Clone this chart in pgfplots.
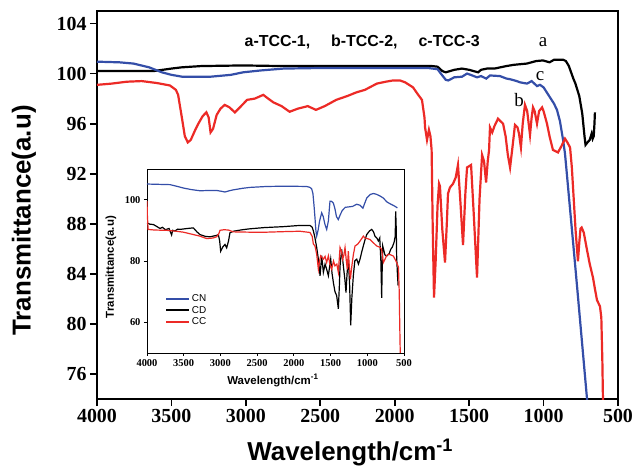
\documentclass[border=0pt]{standalone}
\usepackage{pgfplots}
\pgfplotsset{compat=1.18}
\usepackage{fontspec}
\setmainfont{Liberation Serif}
\newfontfamily\arialfont{Liberation Sans}
\definecolor{cred}{RGB}{236,42,38}
\definecolor{cblue}{RGB}{52,78,168}

\pgfplotstableread{
x y
4000 100.2
3800 100.2
3620 100.2
3500 100.4
3430 100.5
3300 100.6
3020 100.65
2750 100.6
2400 100.6
2000 100.6
1750 100.6
1712 100.55
1680 100.2
1657 100.1
1600 100.3
1548 100.4
1500 100.3
1440 100.1
1420 100.3
1380 100.4
1330 100.4
1250 100.6
1200 100.7
1112 100.8
1050 101.0
1004 101.05
960 100.9
930 101.1
867 101.1
850 101.0
830 100.6
800 99.6
786 99.2
760 98.2
740 96.8
725 95.0
718 94.3
705 94.5
690 94.7
677 95.2
670 94.8
663 95.0
658 96.0
655 96.9
}\mainA

\pgfplotstableread{
x y
4000 100.95
3850 100.9
3755 100.8
3650 100.5
3564 100.1
3500 99.9
3428 99.75
3237 99.75
3100 99.9
3019 100.1
2900 100.25
2747 100.4
2475 100.45
1930 100.45
1780 100.45
1712 100.35
1690 100.0
1657 99.5
1640 99.45
1600 99.7
1548 99.75
1514 100.0
1490 99.9
1447 99.7
1420 99.8
1385 99.6
1360 99.85
1293 99.8
1249 99.6
1225 99.55
1180 99.4
1158 99.3
1111 99.2
1080 99.4
1044 99.0
1024 99.1
1000 98.9
957 98.1
930 97.6
910 97.1
890 96.2
869 94.7
856 93.6
836 91.0
800 86.3
775 83.0
740 78.3
708 74.0
695 72.0
}\mainC

\pgfplotstableread{
x y
4000 99.1
3900 99.2
3800 99.35
3700 99.4
3600 99.25
3510 99.05
3470 98.7
3455 98.3
3430 96.5
3410 95.0
3390 94.5
3370 94.7
3340 95.5
3319 96.0
3290 96.6
3265 96.9
3250 96.5
3237 95.3
3220 95.6
3196 96.7
3170 97.2
3142 97.5
3110 97.3
3074 96.9
3040 97.3
2992 97.9
2940 98.0
2883 98.3
2850 98.0
2815 97.7
2760 97.4
2706 96.95
2650 97.2
2584 97.4
2529 97.1
2470 97.4
2393 97.9
2320 98.2
2257 98.5
2200 98.7
2120 99.2
2060 99.35
2012 99.45
1964 99.45
1930 99.3
1877 98.9
1848 98.4
1817 97.9
1800 96.5
1796 95.7
1783 94.7
1770 95.5
1760 95.0
1752 93.9
1745 88.0
1736 82.1
1725 85.0
1712 89.5
1702 91.2
1696 91.0
1680 87.5
1662 84.9
1650 88.0
1642 90.4
1629 90.9
1608 91.2
1590 91.7
1575 92.7
1560 90.0
1541 86.3
1525 90.5
1514 92.5
1500 92.6
1487 92.7
1470 89.0
1447 83.7
1430 90.0
1413 93.5
1400 93.0
1386 91.3
1375 93.0
1366 93.9
1360 95.7
1345 95.3
1330 95.8
1306 96.4
1290 96.2
1272 96.0
1255 95.0
1240 93.5
1225 92.5
1210 94.0
1192 95.9
1175 95.7
1165 95.2
1152 94.1
1140 96.0
1125 97.5
1110 97.0
1091 95.1
1080 96.5
1071 97.3
1060 97.0
1044 96.0
1030 97.0
1010 97.3
1000 97.0
977 96.0
960 95.0
937 93.9
920 93.8
903 93.7
880 94.2
856 94.8
840 94.5
822 94.1
810 92.5
802 90.9
785 87.5
769 85.0
760 86.5
752 87.6
744 87.7
730 87.3
708 85.9
690 84.8
668 83.7
655 82.8
641 81.9
621 81.4
612 80.5
605 77.0
601 74.0
598 72.0
}\mainB

\pgfplotstableread{
x y
4000 105.1
3850 105.0
3687 104.9
3600 104.4
3505 103.8
3400 103.3
3278 102.9
3150 103.0
3051 103.0
2980 102.7
2938 102.5
2880 102.9
2824 103.2
2700 103.7
2597 104.0
2370 104.3
2100 104.4
1825 104.3
1780 104.0
1757 103.5
1740 102.0
1725 98.0
1712 94.0
1700 90.0
1689 88.1
1670 90.0
1650 93.0
1621 95.7
1600 94.5
1576 91.9
1553 90.3
1530 93.0
1508 99.5
1490 99.5
1462 98.9
1440 97.0
1420 94.5
1395 93.5
1370 95.0
1340 96.5
1300 97.5
1200 97.8
1144 98.5
1100 98.2
1060 97.2
1040 98.5
1008 100.5
960 101.7
917 102.0
880 101.8
826 101.2
780 100.5
735 99.3
700 98.8
660 98.3
620 97.8
590 97.3
}\inCN

\pgfplotstableread{
x y
4000 92.4
3960 92.0
3914 91.9
3870 91.3
3823 90.6
3790 91.0
3750 90.2
3700 90.6
3665 88.5
3650 90.0
3620 89.8
3580 90.4
3550 90.3
3450 90.6
3369 90.8
3320 89.5
3278 88.6
3200 88.0
3142 87.9
3060 88.3
3028 88.6
3010 86.5
2997 83.2
2970 84.5
2938 85.4
2915 84.3
2890 86.5
2870 89.2
2824 89.7
2700 90.2
2597 90.5
2400 90.9
2143 91.2
1916 91.6
1780 91.6
1750 91.0
1734 89.8
1712 87.5
1689 84.4
1666 80.6
1643 75.2
1621 81.7
1598 76.3
1575 79.0
1553 77.3
1530 75.2
1498 80.6
1480 76.0
1462 73.0
1440 70.0
1417 68.7
1394 64.4
1380 72.0
1371 78.4
1349 83.8
1326 78.4
1305 74.0
1290 69.7
1275 76.0
1258 80.6
1240 72.0
1226 59.0
1210 68.0
1190 75.2
1170 80.0
1144 80.6
1120 79.0
1099 80.6
1075 83.0
1054 84.9
1030 87.0
1008 88.6
970 89.8
940 90.3
915 89.5
895 88.1
870 87.5
849 86.5
830 87.5
815 80.0
804 68.0
795 80.0
790 84.9
760 82.0
736 81.6
700 82.5
681 83.8
660 84.5
636 86.0
620 88.0
613 96.2
605 90.0
600 81.6
590 76.0
580 72.0
}\inCD

\pgfplotstableread{
x y
4000 99.5
3995 95.0
3985 90.3
3900 90.1
3732 90.0
3600 89.7
3505 89.4
3400 88.8
3278 88.1
3187 87.3
3100 87.5
3051 87.9
3020 89.0
3006 90.0
2950 90.2
2892 90.1
2824 89.5
2600 89.4
2370 89.4
2100 89.6
1916 89.7
1780 89.3
1750 88.0
1734 85.5
1712 84.9
1689 82.2
1666 77.3
1650 80.0
1634 81.7
1598 80.6
1575 81.5
1553 79.5
1530 81.7
1510 79.0
1485 77.3
1460 80.0
1440 78.4
1415 79.0
1394 76.3
1371 84.4
1350 83.0
1335 80.6
1318 82.0
1303 84.4
1285 80.0
1272 77.3
1258 83.2
1244 78.0
1230 74.0
1212 78.0
1190 82.0
1167 84.9
1130 85.5
1099 86.5
1070 87.5
1054 88.1
1030 87.5
1000 87.3
963 87.0
920 86.0
872 84.9
830 84.5
804 83.8
790 81.0
781 79.5
760 80.5
735 81.8
713 82.2
680 82.0
645 81.6
620 80.5
600 79.5
575 78.0
565 70.0
555 55.0
550 49.0
}\inCC

\begin{document}
\begin{tikzpicture}
\path[use as bounding box] (-97bp,-67bp) rectangle (538bp,399bp);
\begin{axis}[
  at={(0bp,0bp)}, anchor=south west,
  scale only axis, width=521bp, height=388bp,
  xmin=500, xmax=4000, x dir=reverse, ymin=74, ymax=105,
  xtick={500,1000,...,4000}, ytick={76,80,...,104},
  tick pos=left, tick align=outside, major tick length=7bp,
  axis line style={line width=2.4bp},
  every tick/.style={line width=1.8bp, black},
  tick label style={font=\fontsize{20}{20}\selectfont\bfseries},
  /pgf/number format/assume math mode=true,
  /pgf/number format/set thousands separator={},
  xlabel={Wavelength/cm\textsuperscript{-1}},
  ylabel={Transmittance(a.u)},
  label style={font=\arialfont\bfseries\fontsize{26}{26}\selectfont},
  xlabel style={at={(axis description cs:0.486,-0.138)}, anchor=center},
  ylabel style={at={(axis description cs:-0.14,0.46)}, anchor=center},
  clip=true,
]
\addplot[black, line width=2.2bp] table[x=x,y=y] {\mainA};
\addplot[cblue, line width=2.2bp] table[x=x,y=y] {\mainC};
\addplot[cred, line width=2.2bp] table[x=x,y=y] {\mainB};
\node[font=\arialfont\bfseries\fontsize{16}{16}\selectfont] at (axis description cs:0.509,0.92) {a-TCC-1,\hspace{21bp}b-TCC-2,\hspace{21bp}c-TCC-3};
\node[font=\fontsize{19}{19}\selectfont] at (axis cs:1004,102.5) {a};
\node[font=\fontsize{19}{19}\selectfont] at (axis cs:1024,99.8) {c};
\node[font=\fontsize{19}{19}\selectfont] at (axis cs:1165,97.9) {b};
\end{axis}
\begin{axis}[
  at={(50bp,46bp)}, anchor=south west,
  scale only axis, width=257bp, height=184bp,
  xmin=500, xmax=4000, x dir=reverse, ymin=50, ymax=110,
  xtick={500,1000,...,4000}, ytick={60,80,100},
  axis background/.style={fill=white},
  tick pos=left, tick align=outside, major tick length=3bp,
  axis line style={line width=0.9bp},
  every tick/.style={line width=0.8bp, black},
  tick label style={font=\fontsize{10.5}{10.5}\selectfont\bfseries},
  /pgf/number format/assume math mode=true,
  /pgf/number format/set thousands separator={},
  xlabel={Wavelength/cm\textsuperscript{-1}},
  ylabel={Transmittance(a.u)},
  label style={font=\arialfont\bfseries\fontsize{11.5}{11.5}\selectfont},
  xlabel style={at={(axis description cs:0.49,-0.15)}, anchor=center},
  ylabel style={at={(axis description cs:-0.14,0.467)}, anchor=center},
  legend style={at={(0.06,0.34)}, anchor=north west, draw=none, fill=none,
    font=\arialfont\fontsize{10}{10}\selectfont, row sep=-1bp},
  legend cell align=left,
  legend image post style={line width=1.7bp},
  legend image code/.code={\draw[mark repeat=2,mark phase=2,#1] plot coordinates {(0cm,0cm) (0.4cm,0cm) (0.8cm,0cm)};},
]
\addplot[cblue, line width=1.2bp] table[x=x,y=y] {\inCN};
\addlegendentry{CN}
\addplot[black, line width=1.2bp] table[x=x,y=y] {\inCD};
\addlegendentry{CD}
\addplot[cred, line width=1.2bp] table[x=x,y=y] {\inCC};
\addlegendentry{CC}
\end{axis}
\end{tikzpicture}
\end{document}
